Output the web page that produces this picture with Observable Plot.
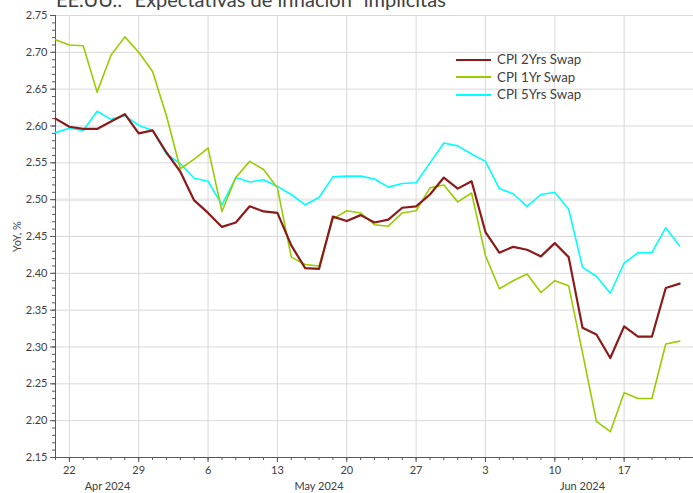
<!DOCTYPE html>
<html><head><meta charset="utf-8">
<script src="https://cdn.jsdelivr.net/npm/d3@7"></script>
<script src="https://cdn.jsdelivr.net/npm/@observablehq/plot@0.6"></script>
<style>
body{margin:0;background:#fff;overflow:hidden}
#wrap{position:relative;width:693px;height:493px;overflow:hidden;font-family:Lato,"Open Sans",sans-serif;color:#404040}
#title{position:absolute;left:56px;top:-11px;font-size:20px;line-height:20px;white-space:nowrap;color:#404040}
#legend{position:absolute;left:456px;top:51px;font-size:13.3px;line-height:17.5px}
#legend div{display:flex;align-items:center}
#legend span.sw{display:inline-block;width:35px;margin-right:6px}
#chart{position:absolute;left:0;top:0}
</style></head><body>
<div id="wrap"><div id="chart"></div><div id="title">EE.UU.: “Expectativas de inflación” implícitas</div><div id="legend"></div></div>
<script>
const dates = ["2024-04-19",
 "2024-04-22","2024-04-23","2024-04-24","2024-04-25","2024-04-26",
 "2024-04-29","2024-04-30","2024-05-01","2024-05-02","2024-05-03",
 "2024-05-06","2024-05-07","2024-05-08","2024-05-09","2024-05-10",
 "2024-05-13","2024-05-14","2024-05-15","2024-05-16","2024-05-17",
 "2024-05-20","2024-05-21","2024-05-22","2024-05-23","2024-05-24",
 "2024-05-27","2024-05-28","2024-05-29","2024-05-30","2024-05-31",
 "2024-06-03","2024-06-04","2024-06-05","2024-06-06","2024-06-07",
 "2024-06-10","2024-06-11","2024-06-12","2024-06-13","2024-06-14",
 "2024-06-17","2024-06-18","2024-06-19","2024-06-20","2024-06-21"];
const cpi2y = [2.610,
 2.599,2.596,2.596,2.606,2.616,
 2.590,2.594,2.564,2.538,2.499,
 2.482,2.463,2.469,2.491,2.484,
 2.482,2.438,2.407,2.406,2.477,
 2.471,2.479,2.469,2.473,2.489,
 2.491,2.507,2.530,2.515,2.525,
 2.456,2.428,2.436,2.432,2.423,
 2.441,2.422,2.326,2.317,2.285,
 2.328,2.314,2.314,2.380,2.386];
const cpi1y = [2.717,
 2.710,2.709,2.646,2.696,2.721,
 2.700,2.674,2.614,2.542,2.555,
 2.570,2.484,2.530,2.552,2.541,
 2.516,2.422,2.412,2.410,2.474,
 2.485,2.482,2.466,2.464,2.482,
 2.485,2.516,2.520,2.497,2.509,
 2.424,2.379,2.390,2.399,2.374,
 2.390,2.383,2.292,2.199,2.185,
 2.238,2.230,2.230,2.304,2.308];
const cpi5y = [2.591,
 2.597,2.594,2.620,2.609,2.614,
 2.601,2.594,2.562,2.549,2.529,
 2.525,2.493,2.530,2.524,2.527,
 2.518,2.507,2.493,2.503,2.531,
 2.532,2.532,2.528,2.517,2.522,
 2.523,2.550,2.577,2.573,2.562,
 2.552,2.515,2.508,2.491,2.507,
 2.510,2.487,2.408,2.396,2.373,
 2.414,2.428,2.428,2.462,2.437];
const seriesNames = ["CPI 2Yrs Swap","CPI 1Yr Swap","CPI 5Yrs Swap"];
const seriesColors = ["#8b1a1a","#99cc00","#00ffff"];
const seriesWidths = [2.2,1.6,1.6];
const yTicks = [2.15,2.20,2.25,2.30,2.35,2.40,2.45,2.50,2.55,2.60,2.65,2.70,2.75];
const monthNames = ["Apr 2024","May 2024","Jun 2024"];

const parsed = dates.map(d => new Date(d + "T00:00:00Z"));
const idx = dates.map((d, i) => i);
const mondays = idx.filter(i => parsed[i].getUTCDay() === 1);
const dayLabel = new Map(mondays.map(i => [i, String(parsed[i].getUTCDate())]));
const monthCenters = [3, 4, 5].map(m => {
  const ii = idx.filter(i => parsed[i].getUTCMonth() === m);
  return (Math.max(0, ii[0] - 0.5) + Math.min(46, ii[ii.length - 1] + 0.5)) / 2;
});
const monthLabel = new Map(monthCenters.map((c, k) => [c, monthNames[k]]));
const minorY = d3.range(215, 276).map(v => v / 100);
const allSeries = [cpi2y, cpi1y, cpi5y];
const tables = allSeries.map((vals, s) => vals.map((v, i) => ({i, v, series: seriesNames[s]})));

const grid = "#d9d9d9";
const axisC = "#595959";
const plot = Plot.plot({
  width: 693, height: 493,
  marginTop: 15, marginBottom: 36, marginLeft: 55, marginRight: 0,
  style: {fontFamily: "Lato, 'Open Sans', sans-serif", fontSize: "11px", color: "#404040", background: "transparent"},
  x: {domain: [0, 46]},
  y: {domain: [2.15, 2.75]},
  marks: [
    Plot.ruleY(yTicks.filter(t => t !== 2.5), {stroke: grid, strokeWidth: 1}),
    Plot.ruleY([2.5], {stroke: "#ebebeb", strokeWidth: 3}),
    Plot.ruleX(mondays, {stroke: grid, strokeWidth: 1}),
    Plot.axisY(minorY, {tickSize: 3, tickFormat: () => "", stroke: axisC, label: null}),
    Plot.axisY(yTicks, {tickSize: 5, tickFormat: d => d.toFixed(2), stroke: axisC, tickPadding: 3,
      label: "YoY, %", labelAnchor: "center", labelArrow: "none", labelOffset: 42}),
    Plot.axisX(idx, {tickSize: 3, tickFormat: () => "", stroke: axisC, label: null}),
    Plot.axisX(mondays, {tickSize: 5, tickFormat: d => dayLabel.get(d), stroke: axisC, tickPadding: 4, label: null}),
    Plot.axisX(monthCenters, {tickSize: 0, tickFormat: d => monthLabel.get(d), tickPadding: 25, label: null}),
    Plot.ruleX([0], {stroke: axisC}),
    Plot.ruleY([2.15], {stroke: axisC}),
    ...[2, 1, 0].map(s => Plot.line(tables[s], {x: "i", y: "v", stroke: seriesColors[s], strokeWidth: seriesWidths[s]}))
  ]
});
document.getElementById("chart").appendChild(plot);

const leg = document.getElementById("legend");
seriesNames.forEach((n, s) => {
  const row = document.createElement("div");
  const sw = document.createElement("span");
  sw.className = "sw";
  sw.style.borderTop = `2px solid ${seriesColors[s]}`;
  row.appendChild(sw);
  row.appendChild(document.createTextNode(n));
  leg.appendChild(row);
});
</script>
</body></html>
